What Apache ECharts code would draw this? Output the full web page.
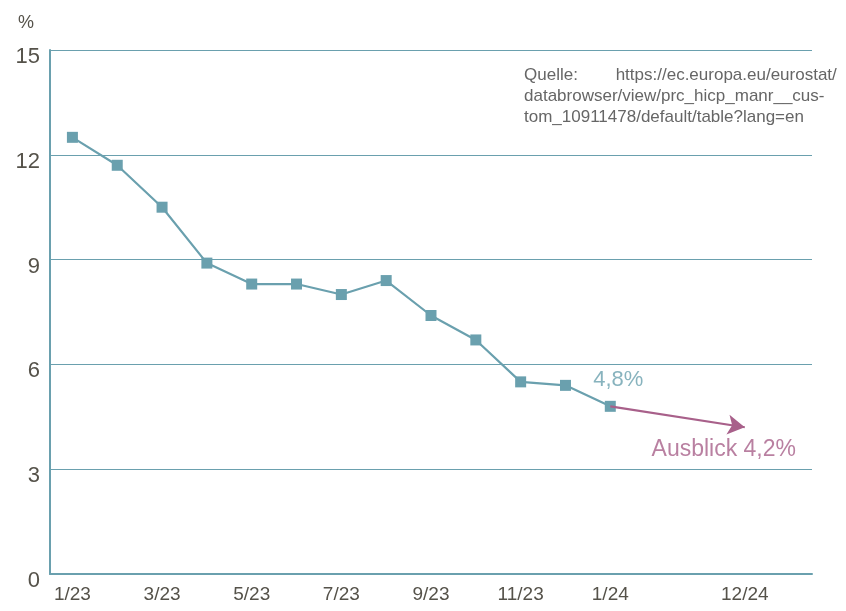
<!DOCTYPE html>
<html><head><meta charset="utf-8">
<script src="https://cdn.jsdelivr.net/npm/echarts@6/dist/echarts.min.js"></script>
<style>html,body{margin:0;padding:0;background:#fff}#c{width:846px;height:611px}</style>
</head><body><div id="c"></div>
<script>
const categories = ['1/23','2/23','3/23','4/23','5/23','6/23','7/23','8/23','9/23','10/23','11/23','12/23','1/24','2/24','3/24','12/24','_'];
const shownLabels = ['1/23','3/23','5/23','7/23','9/23','11/23','1/24','12/24'];
const inflation = [12.5, 11.7, 10.5, 8.9, 8.3, 8.3, 8.0, 8.4, 7.4, 6.7, 5.5, 5.4, 4.8];
const outlookStart = ['1/24', 4.8];
const outlookEnd = ['12/24', 4.2];
const yTicks = [0, 3, 6, 9, 12, 15];
const sourceLines = ['Quelle:        https://ec.europa.eu/eurostat/', 'databrowser/view/prc_hicp_manr__cus-', 'tom_10911478/default/table?lang=en'];

const teal = '#6aa0ae';
const pink = '#a8608a';
const txt = '#55524a';
const font = '"Liberation Sans Narrow","Liberation Sans",Arial,sans-serif';

const chart = echarts.init(document.getElementById('c'));
chart.setOption({
  animation: false,
  grid: {left: 50, right: 34, top: 50, bottom: 37},
  xAxis: {
    type: 'category', data: categories, boundaryGap: true,
    axisLine: {lineStyle: {color: teal, width: 2}},
    axisTick: {show: false},
    axisLabel: {interval: 0, color: txt, fontSize: 19, fontFamily: font, margin: 11,
      formatter: v => shownLabels.includes(v) ? v : ''}
  },
  yAxis: {
    type: 'value', min: 0, max: 15, interval: 3,
    name: '%', nameLocation: 'end', nameGap: 18,
    nameTextStyle: {color: txt, fontSize: 18, fontFamily: font, align: 'right', padding: [0, 16, 0, 0]},
    axisLine: {show: true, lineStyle: {color: teal, width: 2}},
    axisTick: {show: false},
    splitLine: {lineStyle: {color: teal, width: 1}},
    axisLabel: {color: txt, fontSize: 22, fontFamily: font, margin: 10, verticalAlign: 'top', lineHeight: 14,
      formatter: v => yTicks.includes(v) ? String(v) : ''}
  },
  series: [
    {
      type: 'line', data: inflation, symbol: 'rect', symbolSize: 11,
      itemStyle: {color: teal}, lineStyle: {color: teal, width: 2.2},
      label: {show: false},
      markLine: {
        silent: true, symbol: ['none', 'arrow'], symbolSize: [15, 17],
        lineStyle: {color: pink, width: 2.2, type: 'solid'},
        label: {show: false},
        data: [[{coord: outlookStart}, {coord: outlookEnd}]]
      }
    },
    {
      type: 'scatter', symbolSize: 0,
      data: [
        {value: outlookStart, label: {show: true, formatter: '4,8%', color: teal, fontSize: 22, fontFamily: 'Liberation Sans, Arial', offset: [8, -26]}},
        {value: outlookEnd, label: {show: true, formatter: 'Ausblick 4,2%', color: pink, fontSize: 23, fontFamily: 'Liberation Sans, Arial', offset: [-21, 22]}}
      ],
      label: {position: 'inside'}
    }
  ],
  graphic: sourceLines.map((t, i) => ({
    type: 'text', left: 524, top: 67 + i * 21,
    style: {text: t, fill: '#666', fontSize: 17, fontFamily: 'Liberation Sans, Arial'}
  }))
});
</script></body></html>
